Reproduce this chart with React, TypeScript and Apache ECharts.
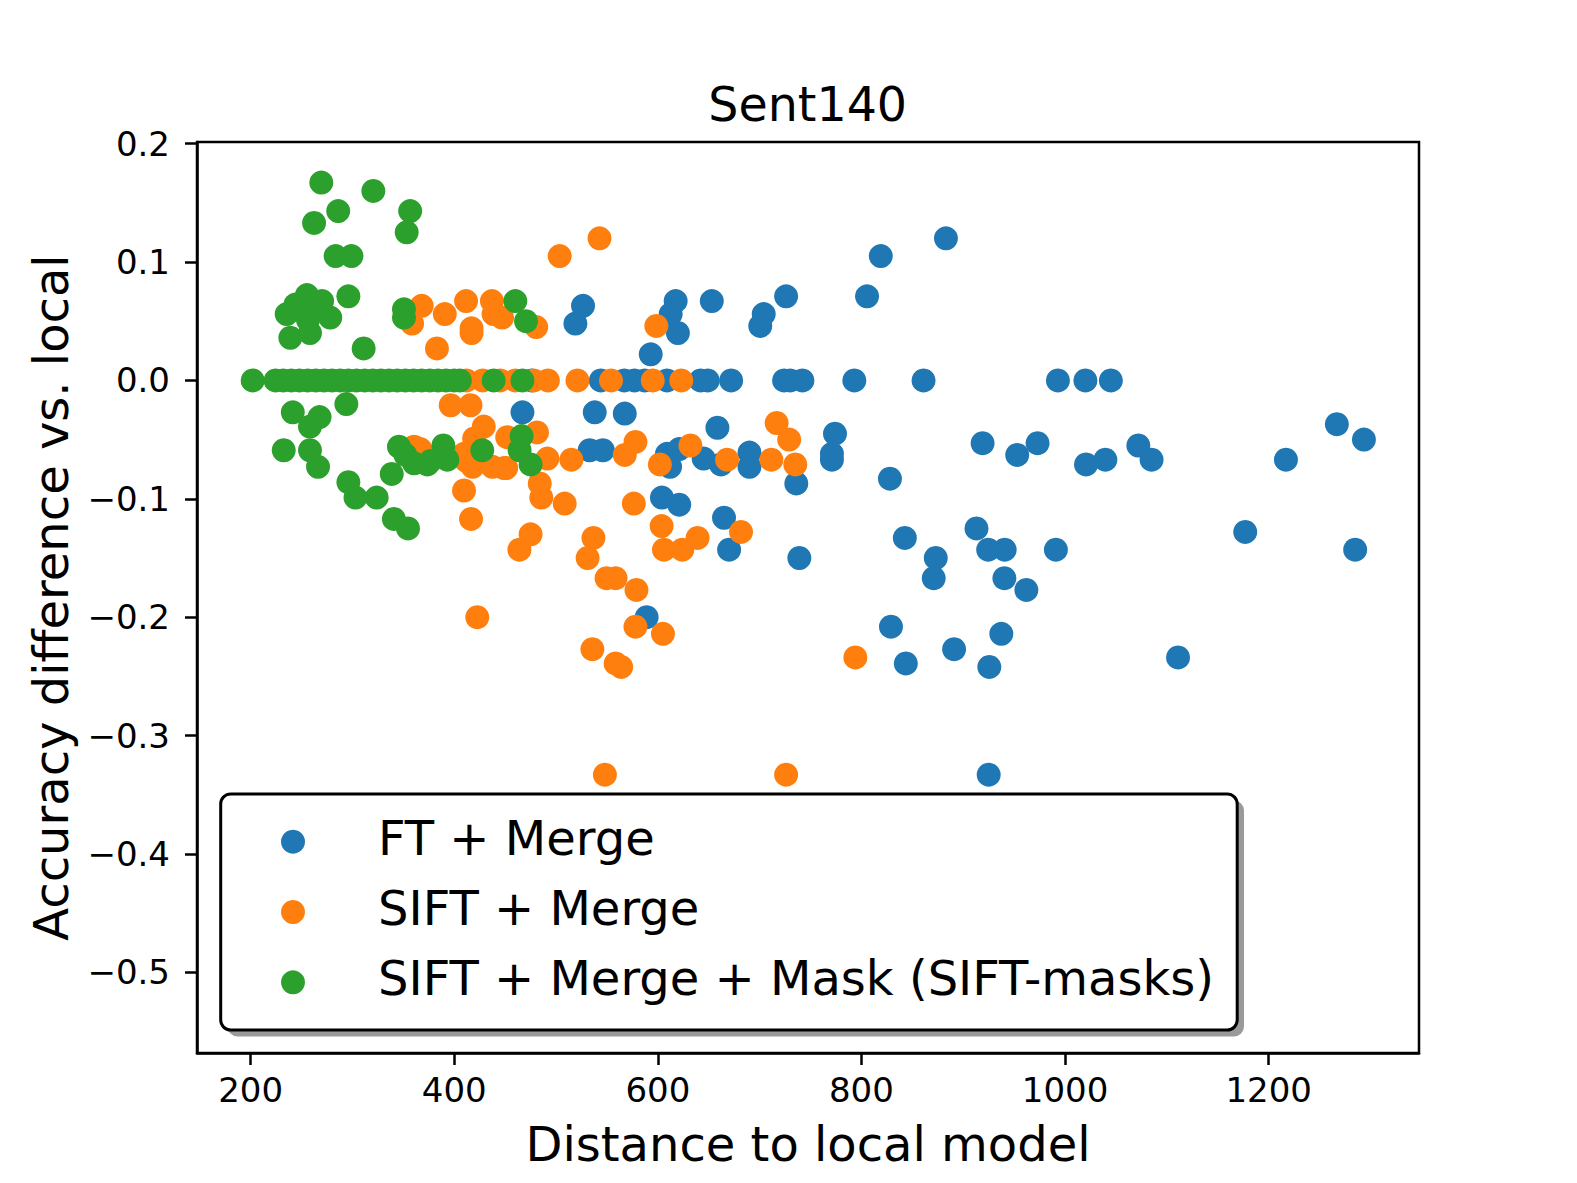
import React, { useEffect, useRef } from "react";
import * as echarts from "echarts";

const seriesNames = ["FT + Merge", "SIFT + Merge", "SIFT + Merge + Mask (SIFT-masks)"];
const seriesColors = ["#1f77b4", "#ff7f0e", "#2ca02c"];

const xTicks = [200, 400, 600, 800, 1000, 1200];
const yTicks = [-0.5, -0.4, -0.3, -0.2, -0.1, 0.0, 0.1, 0.2];

// FT + Merge
const ftZeroX = [476, 544, 567, 577, 587, 609, 642, 649, 672, 724, 730, 742, 793, 861, 993, 1020, 1045];
const ftPoints: [number, number][] = [
  [883, 0.12], [819, 0.105], [805.5, 0.071], [726, 0.071], [704, 0.056], [700.6, 0.046],
  [653, 0.067], [617.5, 0.067], [612.6, 0.056], [619.7, 0.04], [593, 0.022], [526.5, 0.063], [519, 0.048],
  [467, -0.027], [538, -0.027], [567.5, -0.028], [658.5, -0.04], [533, -0.059], [546, -0.059],
  [609, -0.062], [621, -0.058], [612, -0.073], [645, -0.066], [662, -0.071], [690, -0.061], [690, -0.073],
  [736, -0.087], [604, -0.099], [621, -0.105], [665, -0.116], [670, -0.143], [739, -0.15], [589, -0.2],
  [774, -0.045], [771, -0.062], [771, -0.067], [828, -0.083], [919, -0.053], [953, -0.063], [973, -0.053],
  [1020.6, -0.071], [1039.6, -0.067], [1072, -0.055], [1085, -0.067], [1217, -0.067], [1267, -0.037],
  [1293.6, -0.05], [1177, -0.128], [1285, -0.143], [1111, -0.234],
  [842.6, -0.133], [873, -0.15], [871, -0.167], [913, -0.125], [924.5, -0.143], [940.7, -0.143],
  [940.4, -0.167], [962, -0.177], [991, -0.143], [829, -0.208], [937.4, -0.214], [891, -0.227],
  [843.6, -0.239], [925.6, -0.242], [925, -0.333],
];

// SIFT + Merge
const siftZeroX = [412, 428, 445, 460, 478, 492, 521, 554, 595, 623];
const siftPoints: [number, number][] = [
  [503.6, 0.105], [542.7, 0.12], [598.5, 0.046], [480.5, 0.045], [368, 0.063], [390.7, 0.056],
  [411.6, 0.067], [437, 0.067], [438.6, 0.056], [447, 0.053], [417, 0.044], [417, 0.04],
  [358.6, 0.048], [383, 0.027],
  [396.5, -0.021], [416, -0.021], [429, -0.039], [419.5, -0.049], [409.6, -0.062], [360.5, -0.056],
  [452, -0.048], [481.3, -0.044], [451, -0.074], [409.6, -0.093], [416.5, -0.117], [475, -0.13],
  [464, -0.143], [422.6, -0.2], [484, -0.087], [485.5, -0.099], [411.8, -0.068], [418, -0.073],
  [437.5, -0.073], [449, -0.074], [366.6, -0.058], [491.5, -0.066], [515, -0.067], [508.5, -0.104],
  [567.5, -0.063], [578, -0.052], [576.4, -0.104], [602, -0.071], [632, -0.055], [668, -0.067],
  [716.7, -0.036], [729, -0.05], [711.5, -0.067], [735, -0.071], [603.7, -0.123], [606, -0.143],
  [624, -0.143], [639, -0.133], [681.7, -0.128], [536.7, -0.133], [531, -0.15], [549.6, -0.167],
  [558.5, -0.167], [579, -0.177], [578, -0.208], [605, -0.214], [535.7, -0.227], [558.5, -0.239],
  [564, -0.242], [794, -0.234], [548, -0.333], [726, -0.333],
];

// SIFT + Merge + Mask (SIFT-masks)
const maskZeroX = [202, 224.5, 232, 240, 248, 256, 264, 272, 280, 288, 296, 304, 312, 320, 328, 336,
  344, 352, 360, 368, 376, 384, 392, 400, 405.5, 438.7, 467];
const maskPoints: [number, number][] = [
  [269.4, 0.167], [320.5, 0.16], [286, 0.143], [262.3, 0.133], [356.7, 0.143], [353.3, 0.125],
  [283.5, 0.105], [299, 0.105], [296, 0.071], [255.3, 0.072], [270.2, 0.067], [244, 0.064],
  [235.4, 0.056], [278.2, 0.053], [256.3, 0.051], [239, 0.036], [258.3, 0.04], [263.2, 0.06],
  [311, 0.027], [350.6, 0.06], [350.6, 0.053], [460, 0.067], [470.5, 0.05],
  [294, -0.02], [241.4, -0.027], [267.7, -0.031], [258.3, -0.039], [232.5, -0.059], [258.3, -0.059],
  [266.2, -0.073], [296, -0.086], [303, -0.099], [323.8, -0.099], [340.7, -0.117], [354.6, -0.125],
  [338.6, -0.079], [345.7, -0.056], [352, -0.063], [360.5, -0.07], [373.6, -0.071], [389.3, -0.055],
  [393.2, -0.067], [376.8, -0.068], [427.5, -0.059], [466.2, -0.047], [464.2, -0.059], [475, -0.071],
];

const FONT = "DejaVu Sans";

function withZeros(zeros: number[], pts: [number, number][]) {
  return zeros.map((x) => [x, 0]).concat(pts);
}

export default function App() {
  const ref = useRef<HTMLDivElement>(null);
  useEffect(() => {
    if (!ref.current) return;
    const chart = echarts.init(ref.current, null, { renderer: "svg" });
    const allData = [
      withZeros(ftZeroX, ftPoints),
      withZeros(siftZeroX, siftPoints),
      withZeros(maskZeroX, maskPoints),
    ];
    const legendTop = 841.7;
    const legendStep = 70.3;
    const legendGraphics: any[] = [
      {
        type: "rect",
        shape: { x: 227.5, y: 800.5, width: 1016.5, height: 236, r: 10 },
        style: { fill: "#9a9a9a" },
        z: 100,
      },
      {
        type: "rect",
        shape: { x: 220.7, y: 794, width: 1016.5, height: 236, r: 10 },
        style: { fill: "#ffffff", stroke: "#000000", lineWidth: 3 },
        z: 101,
      },
    ];
    seriesNames.forEach((name, i) => {
      legendGraphics.push({
        type: "circle",
        shape: { cx: 293, cy: legendTop + i * legendStep, r: 12 },
        style: { fill: seriesColors[i] },
        z: 102,
      });
      legendGraphics.push({
        type: "text",
        x: 378,
        y: legendTop + i * legendStep - 4,
        style: {
          text: name,
          fill: "#000",
          font: `48px '${FONT}'`,
          align: "left",
          verticalAlign: "middle",
        },
        z: 102,
      });
    });
    legendGraphics.push({
      type: "text",
      x: 807.7,
      y: 104,
      style: {
        text: "Sent140",
        fill: "#000",
        font: `47.5px '${FONT}'`,
        align: "center",
        verticalAlign: "middle",
      },
    });

    chart.setOption({
      animation: false,
      backgroundColor: "#ffffff",
      textStyle: { fontFamily: FONT },
      grid: {
        left: 197,
        right: 158,
        top: 142,
        bottom: 130,
        show: true,
        borderColor: "#000",
        borderWidth: 2.5,
        backgroundColor: "transparent",
      },
      xAxis: {
        type: "value",
        min: 147.3,
        max: 1347.7,
        name: "Distance to local model",
        nameLocation: "middle",
        nameGap: 67,
        nameTextStyle: { fontSize: 48, color: "#000", fontFamily: FONT },
        axisLine: { show: true, onZero: false, lineStyle: { color: "#000", width: 2.5 } },
        axisTick: { show: true, inside: false, length: 12, lineStyle: { color: "#000", width: 2.5 }, customValues: xTicks },
        axisLabel: {
          color: "#000",
          fontSize: 34,
          fontFamily: FONT,
          margin: 20,
          customValues: xTicks,
          formatter: (v: number) => String(Math.round(v)),
        },
        splitLine: { show: false },
      },
      yAxis: {
        type: "value",
        min: -0.568,
        max: 0.2013,
        name: "Accuracy difference vs. local",
        nameLocation: "middle",
        nameGap: 122,
        nameTextStyle: { fontSize: 48, color: "#000", fontFamily: FONT },
        axisLine: { show: true, onZero: false, lineStyle: { color: "#000", width: 2.5 } },
        axisTick: { show: true, inside: false, length: 12, lineStyle: { color: "#000", width: 2.5 }, customValues: yTicks },
        axisLabel: {
          color: "#000",
          fontSize: 34,
          fontFamily: FONT,
          margin: 27,
          customValues: yTicks,
          formatter: (v: number) => {
            const r = Math.round(v * 10) / 10;
            return r < 0 ? "\u2212" + Math.abs(r).toFixed(1) : r.toFixed(1);
          },
        },
        splitLine: { show: false },
      },
      series: seriesNames.map((name, i) => ({
        type: "scatter",
        name,
        data: allData[i],
        symbol: "circle",
        symbolSize: 24,
        itemStyle: { color: seriesColors[i], opacity: 1 },
        z: 2 + i,
      })),
      graphic: legendGraphics,
    });
    return () => chart.dispose();
  }, []);
  return (
    <div
      ref={ref}
      style={{ position: "absolute", left: 0, top: 0, width: 1577, height: 1183 }}
    />
  );
}
